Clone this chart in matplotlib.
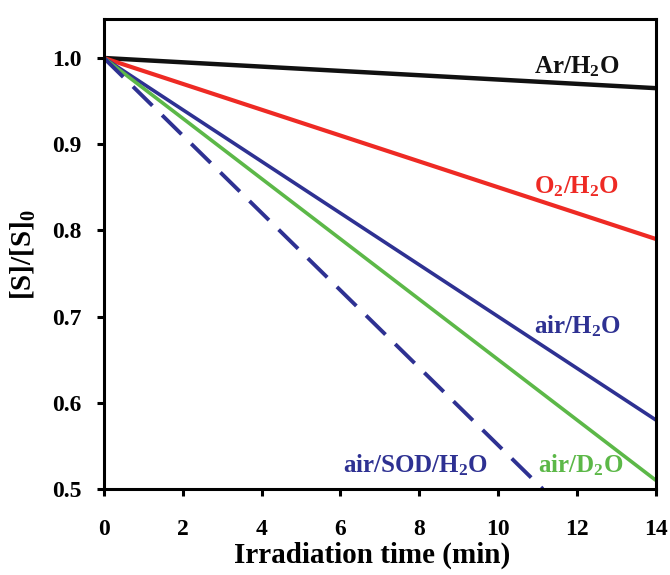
import matplotlib
matplotlib.use('Agg')
import matplotlib.pyplot as plt

# start and end points of each decay line (time in min, [S]/[S]0)
time_ar = [0, 14]
ratio_ar = [1.0, 0.965]
time_o2 = [0, 14]
ratio_o2 = [1.0, 0.79]
time_air = [0, 14]
ratio_air = [1.0, 0.58]
time_d2o = [0, 14]
ratio_d2o = [1.0, 0.51]
time_sod = [0, 11.13]
ratio_sod = [1.0, 0.5]

labels = ['Ar/H$_2$O', 'O$_2$/H$_2$O', 'air/H$_2$O', 'air/D$_2$O', 'air/SOD/H$_2$O']

matplotlib.rcParams.update({'font.family': 'Liberation Serif',
                            'font.weight': 'bold',
                            'axes.labelweight': 'bold',
                            'mathtext.fontset': 'custom',
                            'mathtext.rm': 'Liberation Serif:bold',
                            'mathtext.it': 'Liberation Serif:bold',
                            'mathtext.bf': 'Liberation Serif:bold'})

NAVY = '#2e3192'
RED = '#ee2a24'
GREEN = '#5cb848'

fig = plt.figure(figsize=(6.7, 5.75), dpi=100)
ax = fig.add_axes([0.155, 0.1496, 0.824, 0.817])

ax.plot(time_ar, ratio_ar, color='#111111', lw=3.2, solid_capstyle='butt')
ax.plot(time_o2, ratio_o2, color=RED, lw=3.0, solid_capstyle='butt')
ax.plot(time_air, ratio_air, color=NAVY, lw=2.6, solid_capstyle='butt')
ax.plot(time_d2o, ratio_d2o, color=GREEN, lw=2.6, solid_capstyle='butt')
ax.plot(time_sod, ratio_sod, color=NAVY, lw=2.8, dashes=(7, 3.5))

fs = 18
ax.text(12.0, 0.99, labels[0], color='#111111', fontsize=fs, ha='center', va='center')
ax.text(12.0, 0.851, labels[1], color=RED, fontsize=fs, ha='center', va='center')
ax.text(12.0, 0.689, labels[2], color=NAVY, fontsize=fs, ha='center', va='center')
ax.text(12.1, 0.528, labels[3], color=GREEN, fontsize=fs, ha='center', va='center')
ax.text(7.9, 0.528, labels[4], color=NAVY, fontsize=fs, ha='center', va='center')

ax.set_xlim(0, 14)
ax.set_ylim(0.5, 1.045)
ax.set_xticks(range(0, 15, 2))
ax.set_yticks([0.5, 0.6, 0.7, 0.8, 0.9, 1.0])
ax.set_yticklabels(['0.5', '0.6', '0.7', '0.8', '0.9', '1.0'])
ax.tick_params(direction='out', length=5, width=2.2, labelsize=17)
ax.tick_params(axis='y', pad=11)
# the x tick labels sit well below the axis in the original
for lbl in ax.get_xticklabels():
    lbl.set_y(-0.038)
for sp in ax.spines.values():
    sp.set_linewidth(2.2)

ax.set_xlabel('Irradiation time (min)', fontsize=21, va='center')
ax.set_ylabel('[S]/[S]$_0$', fontsize=21, va='center')
ax.xaxis.set_label_coords(0.486, -0.142)
ax.yaxis.set_label_coords(-0.145, 0.5)

fig.savefig('out.png', dpi=100)
